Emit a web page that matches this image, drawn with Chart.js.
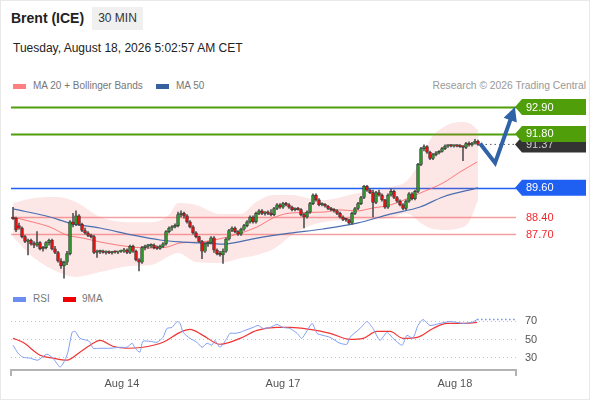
<!DOCTYPE html>
<html>
<head>
<meta charset="utf-8">
<script src="https://cdn.jsdelivr.net/npm/chart.js@4.4.1/dist/chart.umd.min.js"></script>
<style>
  html, body { margin: 0; padding: 0; background: #fff; }
  body { width: 590px; height: 400px; position: relative; overflow: hidden; font-family: "Liberation Sans", Arial, sans-serif; }
  #card { position: absolute; left: 0; top: 0; width: 588px; height: 398px; border: 1px solid #e8e8e8; }
  .abs { position: absolute; white-space: nowrap; }
  #title { left: 11px; top: 10px; font-size: 14px; line-height: 16px; font-weight: bold; color: #222; }
  #period { left: 92px; top: 7px; width: 51px; height: 23px; line-height: 23px; background: #f0f0f0; text-align: center; font-size: 12px; color: #333; }
  #stamp { left: 13px; top: 41px; font-size: 12px; line-height: 14px; color: #222; }
  .leg { font-size: 10px; line-height: 12px; color: #777; }
  .sw { position: absolute; width: 13px; height: 5px; }
  #credit { right: 4px; top: 80px; font-size: 10.3px; line-height: 12px; color: #999; }
  #mainChart { position: absolute; left: 0; top: 95px; }
  #rsiChart { position: absolute; left: 0; top: 290px; }
</style>
</head>
<body>
<div id="card"></div>
<div id="title" class="abs">Brent (ICE)</div>
<div id="period" class="abs">30 MIN</div>
<div id="stamp" class="abs">Tuesday, August 18, 2026 5:02:57 AM CET</div>

<div class="sw" style="left:13px; top:84px; background:#ff8080;"></div>
<div class="abs leg" style="left:33px; top:80px;">MA 20 + Bollinger Bands</div>
<div class="sw" style="left:156px; top:84px; background:#36609e;"></div>
<div class="abs leg" style="left:176px; top:80px;">MA 50</div>
<div id="credit" class="abs">Research © 2026 Trading Central</div>

<div class="sw" style="left:13px; top:297px; background:#6b8ef0;"></div>
<div class="abs leg" style="left:33px; top:293px;">RSI</div>
<div class="sw" style="left:63px; top:297px; background:#f00000;"></div>
<div class="abs leg" style="left:82px; top:293px;">9MA</div>

<canvas id="mainChart" width="590" height="190"></canvas>
<canvas id="rsiChart" width="590" height="110"></canvas>

<script>
// 30 min candles, one per slot (index 0 .. 155)
const opens = [
  88.40, 88.35, 88.05, 87.95, 87.60, 87.40, 87.45, 87.30, 87.25, 87.35,
  87.10, 87.15, 87.35, 87.45, 87.10, 86.95, 86.60, 86.40, 86.55, 86.90,
  88.20, 88.10, 88.45, 88.10, 87.85, 87.75, 87.65, 87.60, 86.95, 86.98,
  87.00, 86.95, 86.97, 86.93, 86.98, 86.96, 86.99, 87.00, 87.05, 86.95,
  87.20, 87.00, 86.65, 86.55, 87.15, 87.20, 87.22, 87.25, 87.15, 87.12,
  87.20, 87.30, 87.80, 87.95, 88.00, 88.05, 88.50, 88.55, 88.45, 88.20,
  88.00, 87.75, 87.60, 87.40, 87.00, 87.30, 87.35, 87.55, 87.05, 86.90,
  86.85, 87.00, 87.50, 87.85, 87.95, 87.80, 87.70, 87.90, 88.05, 88.20,
  88.40, 88.20, 88.55, 88.65, 88.55, 88.58, 88.55, 88.50, 88.75, 88.90,
  88.80, 88.95, 88.90, 88.80, 88.70, 88.75, 88.70, 88.50, 88.40, 88.60,
  88.95, 89.30, 89.10, 88.90, 88.92, 88.85, 88.75, 88.70, 88.65, 88.55,
  88.40, 88.30, 88.28, 88.15, 88.55, 88.75, 88.95, 89.20, 89.65, 89.50,
  89.40, 89.00, 89.40, 89.30, 89.10, 88.80, 89.30, 89.45, 89.20, 89.05,
  88.90, 88.75, 89.05, 89.35, 89.15, 89.45, 90.55, 91.20, 91.28, 91.05,
  90.80, 90.95, 91.02, 91.08, 91.20, 91.30, 91.32, 91.30, 91.32, 91.30,
  91.28, 91.25, 91.40, 91.35, 91.42, 91.50
];
const highs = [
  88.80, 88.40, 88.15, 88.00, 87.65, 87.50, 87.50, 87.40, 87.80, 87.40,
  87.20, 87.40, 87.50, 87.50, 87.20, 87.00, 86.70, 86.60, 87.00, 88.25,
  88.55, 88.65, 88.50, 88.15, 87.95, 87.80, 87.70, 87.65, 87.05, 87.05,
  87.05, 87.02, 87.02, 87.00, 87.02, 87.00, 87.05, 87.12, 87.10, 87.25,
  87.25, 87.05, 86.70, 87.20, 87.25, 87.28, 87.30, 87.30, 87.22, 87.25,
  87.35, 87.85, 88.00, 88.05, 88.12, 88.60, 88.65, 88.60, 88.50, 88.25,
  88.05, 87.80, 87.62, 87.45, 87.35, 87.40, 87.60, 87.60, 87.10, 87.00,
  87.10, 87.55, 87.90, 88.00, 88.00, 87.85, 87.95, 88.10, 88.25, 88.45,
  88.45, 88.60, 88.70, 88.70, 88.62, 88.65, 88.70, 88.80, 88.95, 88.95,
  89.00, 89.00, 88.95, 88.85, 88.78, 88.80, 88.75, 88.55, 88.65, 89.00,
  89.35, 89.35, 89.15, 88.98, 88.95, 88.88, 88.80, 88.75, 88.70, 88.60,
  88.45, 88.35, 88.32, 88.60, 88.80, 89.00, 89.25, 89.70, 89.70, 89.55,
  89.50, 89.45, 89.50, 89.35, 89.12, 89.35, 89.55, 89.50, 89.25, 89.10,
  88.95, 89.10, 89.40, 89.40, 89.50, 90.60, 91.25, 91.35, 91.32, 91.10,
  91.00, 91.08, 91.12, 91.25, 91.35, 91.35, 91.36, 91.34, 91.35, 91.36,
  91.32, 91.45, 91.48, 91.45, 91.58, 91.55
];
const lows = [
  88.30, 87.80, 87.90, 87.55, 87.35, 86.85, 87.25, 87.15, 87.20, 87.05,
  87.00, 87.10, 87.25, 87.05, 86.90, 86.55, 86.30, 85.90, 86.45, 86.85,
  88.00, 88.05, 88.05, 87.80, 87.70, 87.60, 87.55, 86.90, 86.75, 86.90,
  86.92, 86.88, 86.90, 86.88, 86.92, 86.90, 86.95, 86.95, 86.90, 86.90,
  86.95, 86.60, 86.20, 86.50, 87.05, 87.12, 87.15, 87.10, 87.08, 87.08,
  87.15, 87.25, 87.75, 87.85, 87.95, 88.00, 88.40, 88.35, 88.15, 87.95,
  87.70, 87.55, 87.35, 86.70, 86.95, 87.20, 87.30, 86.95, 86.85, 86.80,
  86.50, 86.95, 87.45, 87.80, 87.75, 87.65, 87.65, 87.85, 88.00, 88.15,
  88.15, 88.15, 88.50, 88.50, 88.48, 88.50, 88.45, 88.45, 88.70, 88.75,
  88.75, 88.85, 88.75, 88.65, 88.65, 88.68, 88.45, 87.95, 88.35, 88.55,
  88.90, 89.05, 88.85, 88.85, 88.80, 88.70, 88.65, 88.60, 88.50, 88.35,
  88.25, 88.22, 88.10, 88.10, 88.50, 88.70, 88.90, 89.15, 89.45, 89.35,
  88.40, 88.95, 89.25, 89.05, 88.75, 88.75, 89.25, 89.15, 89.00, 88.85,
  88.70, 88.70, 89.00, 89.10, 89.10, 89.40, 90.50, 91.10, 91.00, 90.75,
  90.75, 90.90, 90.98, 91.05, 91.15, 91.25, 91.27, 91.26, 91.27, 91.25,
  90.70, 91.20, 91.30, 91.30, 91.38, 91.33
];
const closes = [
  88.32, 87.87, 87.95, 87.60, 87.40, 87.45, 87.30, 87.25, 87.35, 87.10,
  87.15, 87.35, 87.45, 87.10, 86.95, 86.60, 86.40, 86.55, 86.90, 88.20,
  88.10, 88.45, 88.10, 87.85, 87.75, 87.65, 87.60, 86.95, 86.98, 87.00,
  86.95, 86.97, 86.93, 86.98, 86.96, 86.99, 87.00, 87.05, 86.95, 87.20,
  87.00, 86.65, 86.55, 87.15, 87.20, 87.22, 87.25, 87.15, 87.12, 87.20,
  87.30, 87.80, 87.95, 88.00, 88.05, 88.50, 88.55, 88.45, 88.20, 88.00,
  87.75, 87.60, 87.40, 87.00, 87.30, 87.35, 87.55, 87.05, 86.90, 86.85,
  87.00, 87.50, 87.85, 87.95, 87.80, 87.70, 87.90, 88.05, 88.20, 88.40,
  88.20, 88.55, 88.65, 88.55, 88.58, 88.55, 88.50, 88.75, 88.90, 88.80,
  88.95, 88.90, 88.80, 88.70, 88.75, 88.70, 88.50, 88.40, 88.60, 88.95,
  89.30, 89.10, 88.90, 88.92, 88.85, 88.75, 88.70, 88.65, 88.55, 88.40,
  88.30, 88.28, 88.15, 88.55, 88.75, 88.95, 89.20, 89.65, 89.50, 89.40,
  89.00, 89.40, 89.30, 89.10, 88.80, 89.30, 89.45, 89.20, 89.05, 88.90,
  88.75, 89.05, 89.35, 89.15, 89.45, 90.55, 91.20, 91.28, 91.05, 90.80,
  90.95, 91.02, 91.08, 91.20, 91.30, 91.32, 91.30, 91.32, 91.30, 91.28,
  91.25, 91.40, 91.35, 91.42, 91.50, 91.37
];

// indicator lines, read at the candle slots where they were measured
const ma20Index = [0, 6.7, 12.3, 18, 23.3, 29, 40, 45.7, 51.3, 55.7, 62.3, 70, 81.3, 86.7, 92.3, 103.3, 109, 114.7, 120, 125.7, 135.7, 143.3, 149, 154.7];
const ma20 = [88.40, 88.19, 87.99, 87.66, 87.54, 87.38, 87.17, 87.13, 87.17, 87.34, 87.38, 87.54, 87.99, 88.36, 88.56, 88.60, 88.69, 88.65, 88.77, 88.89, 89.38, 89.79, 90.24, 90.65];
const ma50Index = [0, 12.3, 19, 29, 40, 49, 55.7, 62.3, 70, 81.3, 92.3, 103.3, 114.7, 125.7, 135.7, 143.3, 155];
const ma50 = [88.73, 88.40, 88.15, 87.95, 87.66, 87.46, 87.38, 87.34, 87.29, 87.54, 87.74, 87.91, 88.15, 88.52, 88.81, 89.22, 89.59];
const bbIndex = [0, 7, 15, 21, 29, 39, 46, 52, 55, 61, 69, 76, 81, 87, 93, 98, 103, 115, 126, 131, 136, 139, 143, 149, 152, 155];
const bbUpper = [88.97, 89.18, 89.22, 89.01, 88.40, 88.19, 88.19, 88.48, 88.97, 88.89, 88.52, 88.52, 89.01, 89.30, 89.30, 89.18, 89.09, 89.38, 89.63, 89.85, 90.73, 91.55, 92.04, 92.29, 92.25, 91.96];
const bbLower = [87.58, 86.72, 86.15, 85.95, 86.15, 86.40, 86.44, 86.80, 86.93, 86.56, 86.52, 86.72, 86.84, 87.10, 87.66, 87.99, 88.19, 88.28, 88.36, 88.55, 88.15, 87.95, 87.87, 87.95, 88.20, 89.09];

// key levels
const resistances = [92.90, 91.80];
const pivots = [89.60];
const supports = [88.40, 87.70];

// forecast arrow (slot, price)
const arrowIndex = [155.7, 160.7, 167.3];
const arrowPrice = [91.41, 90.61, 92.90];

// RSI panel
const rsiIndex = [0, 1.7, 3.3, 5.7, 8.3, 11.3, 13.3, 15.7, 17.3, 18.3, 19.7, 20.7, 22.3, 24.7, 25.7, 26.7, 29, 32.3, 35.7, 38, 39.7, 40.7, 42.3, 43.3, 45.7, 48, 50, 51.3, 53, 54.7, 55.7, 56.7, 59, 61.3, 63, 64.7, 66.3, 67.3, 69, 71.3, 72.3, 74, 75.7, 77.3, 80, 81.7, 83.3, 85.7, 88, 90, 92.3, 94.7, 96.3, 99.7, 101.3, 103.3, 105.7, 109, 111.3, 112.3, 115.7, 118, 120, 122.3, 124.7, 126.7, 129.7, 131.3, 133.3, 135, 136.7, 139, 142.3, 145.7, 148, 150, 153, 154.7];
const rsiValues = [43.8, 35.1, 30.7, 29.6, 27.4, 34.0, 29.6, 19.8, 27.4, 36.2, 58.0, 59.0, 51.4, 49.2, 47.1, 40.5, 40.5, 40.5, 41.6, 41.6, 46.0, 40.5, 36.2, 48.1, 48.1, 47.1, 52.5, 62.3, 63.4, 69.9, 67.8, 58.0, 51.4, 47.1, 41.6, 46.0, 43.8, 49.2, 41.6, 51.4, 56.9, 56.9, 58.0, 60.1, 63.4, 65.6, 62.3, 63.4, 66.7, 63.4, 62.3, 56.9, 51.4, 67.8, 56.9, 54.7, 52.5, 46.0, 44.9, 52.5, 62.3, 69.9, 62.3, 49.2, 58.0, 51.4, 43.8, 54.7, 51.4, 65.6, 72.1, 65.6, 67.8, 69.9, 68.9, 67.8, 68.9, 72.1];
const rsiMaIndex = [0, 3.3, 9, 13.3, 18, 22.3, 25.7, 29, 33.3, 38, 43.3, 50, 55.7, 59, 63.3, 69, 75.7, 81.3, 88, 92.3, 99, 105.7, 112.3, 116.7, 121.3, 125.7, 130, 134.7, 140, 144.7, 150, 154.7];
const rsiMa = [51.4, 47.1, 32.9, 29.6, 27.4, 36.2, 43.8, 49.2, 42.7, 40.5, 41.6, 47.1, 58.0, 61.2, 54.7, 44.9, 51.4, 60.1, 63.4, 63.4, 61.2, 56.9, 50.3, 51.4, 59.0, 59.0, 51.4, 52.5, 62.3, 67.8, 67.8, 68.9];
const rsiProjIndex = [154.7, 167.7];
const rsiProj = [72.1, 72.1];
const rsiLevels = [30, 50, 70];

// time axis
const dayTicks = [36.3, 90, 147.3];
const dayLabels = ['Aug 14', 'Aug 17', 'Aug 18'];

const X_MIN = -0.67, X_MAX = 167.67;
const GREEN = '#4f9e0a', BLUE = '#1f60f3', RED_LINE = '#f5a0a0', RED_TEXT = '#f0282d';
const ARROW = '#2f62a6';

Chart.defaults.font.family = '"Liberation Sans", Arial, sans-serif';
Chart.defaults.animation = false;

const pts = (xs, ys) => xs.map((x, k) => ({ x: x, y: ys[k] }));

const bodies = closes.map((c, i) => ({ x: i, y: [opens[i], c] }));
const wicks = highs.map((h, i) => ({ x: i, y: [lows[i], h] }));
const bodyColors = closes.map((c, i) => c >= opens[i] ? '#2e942e' : '#e01212');

function drawTag(ctx, left, right, yPix, text, bg, fg) {
  ctx.fillStyle = bg;
  ctx.beginPath();
  ctx.moveTo(left, yPix);
  ctx.lineTo(left + 7, yPix - 8);
  ctx.lineTo(right, yPix - 8);
  ctx.lineTo(right, yPix + 8);
  ctx.lineTo(left + 7, yPix + 8);
  ctx.closePath();
  ctx.fill();
  ctx.fillStyle = fg;
  ctx.fillText(text, left + 11, yPix + 0.5);
}

const levelsPlugin = {
  id: 'levels',
  beforeDatasetsDraw(chart) {
    const { ctx, chartArea: a, scales: { y } } = chart;
    ctx.save();
    const hline = (v, color, w, right) => {
      const py = Math.round(y.getPixelForValue(v)) + 0.5;
      ctx.strokeStyle = color;
      ctx.lineWidth = w;
      ctx.beginPath();
      ctx.moveTo(a.left, py);
      ctx.lineTo(right, py);
      ctx.stroke();
    };
    resistances.forEach(v => hline(v, GREEN, 2, a.right));
    pivots.forEach(v => hline(v, BLUE, 1.5, a.right));
    supports.forEach(v => hline(v, RED_LINE, 1.5, a.right));
    ctx.restore();
  },
  afterDraw(chart) {
    const { ctx, chartArea: a, scales: { x, y } } = chart;
    const last = closes[closes.length - 1];
    ctx.save();
    // dotted last price line
    const ly = y.getPixelForValue(last);
    ctx.strokeStyle = '#555';
    ctx.lineWidth = 1;
    ctx.setLineDash([1.5, 3]);
    ctx.beginPath();
    ctx.moveTo(x.getPixelForValue(closes.length - 1) + 3, ly);
    ctx.lineTo(a.right, ly);
    ctx.stroke();
    ctx.setLineDash([]);

    // forecast arrow
    const p = arrowIndex.map((v, k) => [x.getPixelForValue(v), y.getPixelForValue(arrowPrice[k])]);
    const [tx, ty] = p[p.length - 1];
    const [px, py] = p[p.length - 2];
    const ang = Math.atan2(ty - py, tx - px);
    const headLen = 14, headHalf = 7;
    const bx = tx - headLen * Math.cos(ang), by = ty - headLen * Math.sin(ang);
    ctx.strokeStyle = ARROW;
    ctx.lineWidth = 4;
    ctx.lineJoin = 'miter';
    ctx.beginPath();
    ctx.moveTo(p[0][0], p[0][1]);
    for (let k = 1; k < p.length - 1; k++) ctx.lineTo(p[k][0], p[k][1]);
    ctx.lineTo(bx + 2 * Math.cos(ang), by + 2 * Math.sin(ang));
    ctx.stroke();
    ctx.fillStyle = ARROW;
    ctx.beginPath();
    ctx.moveTo(tx, ty);
    ctx.lineTo(bx + headHalf * Math.sin(ang), by - headHalf * Math.cos(ang));
    ctx.lineTo(bx - headHalf * Math.sin(ang), by + headHalf * Math.cos(ang));
    ctx.closePath();
    ctx.fill();

    // price tags
    ctx.font = '11px "Liberation Sans", Arial, sans-serif';
    ctx.textBaseline = 'middle';
    ctx.textAlign = 'left';
    const left = a.right - 1, right = 586;
    drawTag(ctx, left, right, y.getPixelForValue(last), last.toFixed(2), '#333333', '#cfcfcf');
    resistances.slice().reverse().forEach(v => drawTag(ctx, left, right, y.getPixelForValue(v), v.toFixed(2), GREEN, '#ffffff'));
    pivots.forEach(v => drawTag(ctx, left, right, y.getPixelForValue(v), v.toFixed(2), BLUE, '#ffffff'));
    ctx.fillStyle = RED_TEXT;
    supports.forEach(v => ctx.fillText(v.toFixed(2), left + 11, y.getPixelForValue(v) + 0.5));
    ctx.restore();
  }
};

new Chart(document.getElementById('mainChart'), {
  type: 'bar',
  data: {
    datasets: [
      { type: 'bar', data: bodies, backgroundColor: bodyColors, borderColor: 'rgba(45,45,45,0.85)', borderWidth: 0.7, borderSkipped: false, barThickness: 3, minBarLength: 1.5, grouped: false, order: 1 },
      { type: 'bar', data: wicks, backgroundColor: '#555555', barThickness: 1, grouped: false, order: 2 },
      { type: 'line', data: pts(ma50Index, ma50), borderColor: '#4a6fb0', borderWidth: 1.2, pointRadius: 0, cubicInterpolationMode: 'monotone', order: 3 },
      { type: 'line', data: pts(ma20Index, ma20), borderColor: 'rgba(250,110,110,0.9)', borderWidth: 1, pointRadius: 0, cubicInterpolationMode: 'monotone', order: 4 },
      { type: 'line', data: pts(bbIndex, bbUpper), borderWidth: 0, borderColor: 'rgba(0,0,0,0)', backgroundColor: 'rgba(245,100,100,0.16)', fill: '+1', pointRadius: 0, cubicInterpolationMode: 'monotone', order: 5 },
      { type: 'line', data: pts(bbIndex, bbLower), borderWidth: 0, borderColor: 'rgba(0,0,0,0)', fill: false, pointRadius: 0, cubicInterpolationMode: 'monotone', order: 6 }
    ]
  },
  options: {
    responsive: false,
    layout: { padding: { left: 11, right: 74, top: 0, bottom: 0 } },
    plugins: { legend: { display: false }, tooltip: { enabled: false } },
    events: [],
    scales: {
      x: { type: 'linear', min: X_MIN, max: X_MAX, display: false, offset: false },
      y: { type: 'linear', min: 85.62, max: 93.39, display: false }
    }
  },
  plugins: [levelsPlugin]
});

const axisEnds = {
  id: 'axisEnds',
  afterDraw(chart) {
    const { ctx, chartArea: a } = chart;
    ctx.save();
    ctx.strokeStyle = '#b3b3b3';
    ctx.lineWidth = 2;
    ctx.beginPath();
    ctx.moveTo(a.left, a.bottom);
    ctx.lineTo(a.left, a.bottom + 6);
    ctx.moveTo(a.right, a.bottom);
    ctx.lineTo(a.right, a.bottom + 6);
    ctx.stroke();
    ctx.restore();
  }
};

new Chart(document.getElementById('rsiChart'), {
  type: 'line',
  data: {
    datasets: [
      { data: pts(rsiIndex, rsiValues), borderColor: '#7f9df0', borderWidth: 1, pointRadius: 0, tension: 0.2 },
      { data: pts(rsiMaIndex, rsiMa), borderColor: '#f03535', borderWidth: 1.2, pointRadius: 0, cubicInterpolationMode: 'monotone' },
      { data: pts(rsiProjIndex, rsiProj), borderColor: '#6f8ff0', borderWidth: 1.3, borderDash: [1.5, 2.5], pointRadius: 0 }
    ]
  },
  options: {
    responsive: false,
    layout: { padding: { left: 11, right: 0, top: 15, bottom: 0 } },
    plugins: { legend: { display: false }, tooltip: { enabled: false } },
    events: [],
    scales: {
      x: {
        type: 'linear', min: X_MIN, max: X_MAX, offset: false,
        grid: { display: false, drawTicks: false },
        border: { display: true, color: '#b3b3b3', width: 2 },
        afterBuildTicks: s => { s.ticks = dayTicks.map(v => ({ value: v })); },
        afterFit: s => { s.height = 30; },
        ticks: { autoSkip: false, maxRotation: 0, padding: 7, color: '#555', font: { size: 11 }, callback: (v, i) => dayLabels[i] }
      },
      y: {
        position: 'right', min: 16.6, max: 87.4,
        grid: { color: '#c4c4c4', drawTicks: false, lineWidth: 1 },
        border: { display: false, dash: [1, 3] },
        afterBuildTicks: s => { s.ticks = rsiLevels.map(v => ({ value: v })); },
        afterFit: s => { s.width = 74; },
        ticks: { padding: 9, color: '#555', font: { size: 11 } }
      }
    }
  },
  plugins: [axisEnds]
});
</script>
</body>
</html>
